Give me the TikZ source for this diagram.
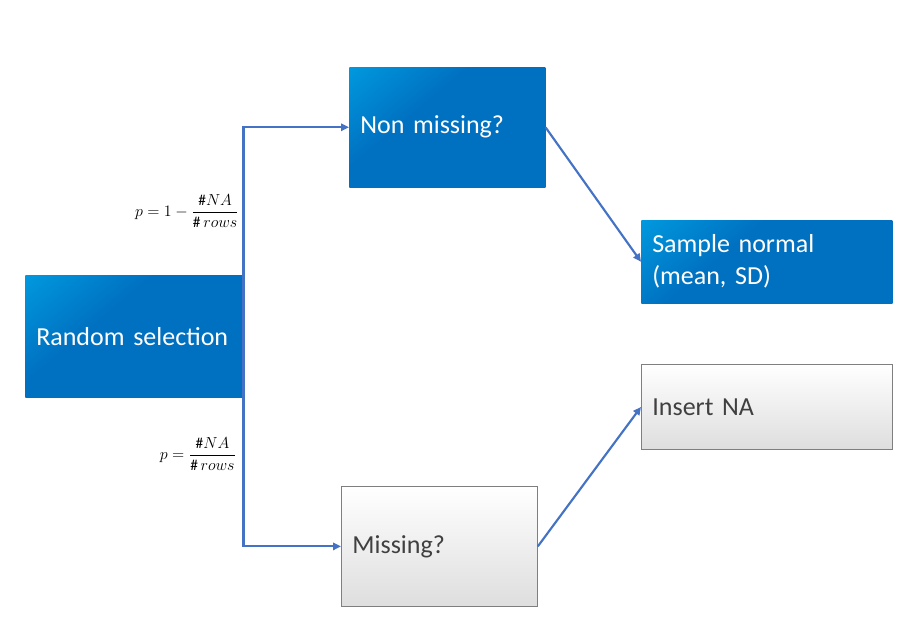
\documentclass[tikz,border=0pt]{standalone}
\usepackage{amsmath}
\usepackage{fontspec}
\setmainfont{Carlito}
\usepackage{tikz}
\usetikzlibrary{arrows.meta,shadows}

\definecolor{bluedark}{RGB}{0,112,192}
\definecolor{bluelight}{RGB}{0,176,240}
\definecolor{linkblue}{RGB}{68,114,196}
\definecolor{greyedge}{RGB}{127,127,127}
\definecolor{greytext}{RGB}{64,64,64}
\pgfdeclareverticalshading{blueshade}{100bp}{color(0bp)=(bluedark); color(60bp)=(bluedark); color(100bp)=(bluelight)}

\tikzset{
  bluebox/.style={shading=blueshade, shading angle=40, text=white, anchor=north west,
    inner xsep=8.25pt, align=left, font=\fontsize{19.5}{24}\selectfont,
    drop shadow={shadow xshift=0.8pt, shadow yshift=-0.8pt, opacity=0.35}},
  greybox/.style={top color=white, bottom color=black!13, draw=greyedge, line width=0.6pt,
    text=greytext, anchor=north west, inner xsep=8.25pt, align=left,
    font=\fontsize{19.5}{24}\selectfont,
    drop shadow={shadow xshift=0.8pt, shadow yshift=-0.8pt, opacity=0.3}},
  link/.style={draw=linkblue, line width=1.6pt, -{Triangle[length=6pt,width=5.5pt]}},
  prob/.style={inner sep=0pt, font=\fontsize{11.5}{14}\selectfont}
}

\begin{document}
\begin{tikzpicture}[x=0.75pt,y=0.75pt,yscale=-1,xscale=1]
    \useasboundingbox (0,0) rectangle (922,643);

    %Shape: Rectangle [Random selection]
    \node (rs) at (25,275) [bluebox, minimum width=163.5pt, minimum height=91.5pt, text width=147pt] {Random selection};
    %Shape: Rectangle [Non missing]
    \node (nm) at (349,67) [bluebox, minimum width=147pt, minimum height=90pt, text width=130.5pt] {Non missing?};
    %Shape: Rectangle [Missing]
    \node (mi) at (341,486) [greybox, minimum width=147pt, minimum height=90pt, text width=130.5pt] {Missing?};
    %Shape: Rectangle [Sample normal]
    \node (sn) at (641,220) [bluebox, minimum width=188.25pt, minimum height=62.25pt, text width=171.75pt] {Sample normal\\(mean, SD)};
    %Shape: Rectangle [Insert NA]
    \node (ina) at (641,364) [greybox, minimum width=188.25pt, minimum height=63.75pt, text width=171.75pt] {Insert NA};

    %Straight Lines
    \draw [link] (rs.east) |- (nm.west);
    \draw [link] (rs.east) |- (mi.west);
    \draw [link] (nm.east) -- (sn.west);
    \draw [link] (mi.east) -- (ina.west);

    % Text Node
    \node (pnm) at (187,211) [prob] {$\displaystyle p = 1 - \frac{\#NA}{\#\,rows}$};
    % Text Node
    \node (pmi) at (198,454) [prob] {$\displaystyle p = \frac{\#NA}{\#\,rows}$};

\end{tikzpicture}
\end{document}
